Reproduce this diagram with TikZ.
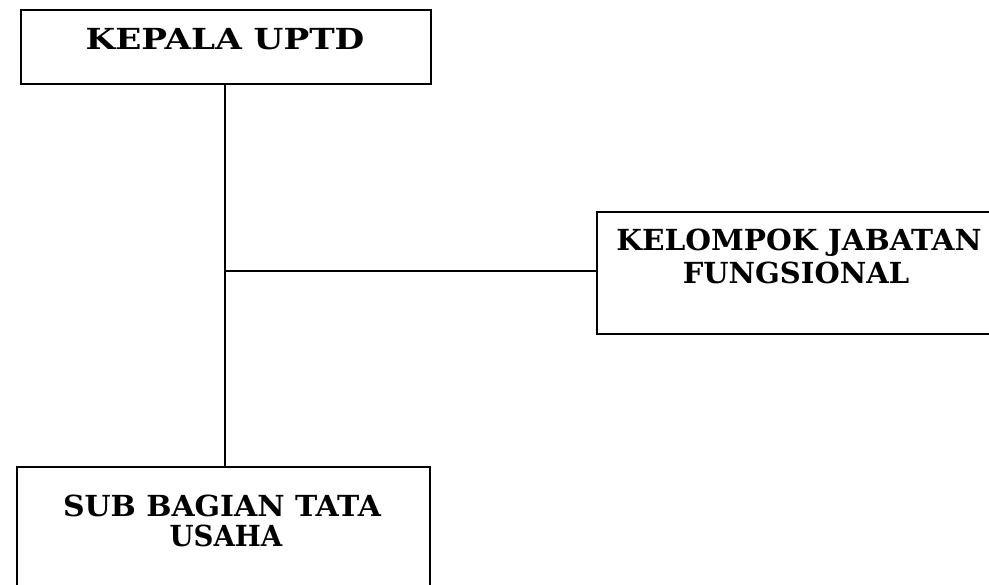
\documentclass[tikz,border=0pt]{standalone}
\usepackage{fontspec}
\setmainfont{DejaVu Serif}
% horizontal stretch of a label to the set width of the chart's typeface
\newcommand{\wide}[2]{\scalebox{#1}[1]{#2}}
\begin{document}
\begin{tikzpicture}[x=1pt,y=-1pt,
  box/.style={draw=black,line width=2pt,fill=white,inner sep=0pt,anchor=north west},
  lbl/.style={anchor=base,inner sep=0pt,font=\bfseries\fontsize{29}{33}\selectfont},
  link/.style={draw=black,line width=2pt}]
\useasboundingbox (0,0) rectangle (989,585);
\clip (0,0) rectangle (989,585);
\coordinate (junc) at (225,271);
% boxes
\node[box,minimum width=410pt,minimum height=73.5pt] (head) at (20,9.5) {};
\node[box,minimum width=408pt,minimum height=122pt] (func) at (596,211) {};
\node[box,minimum width=413pt,minimum height=160pt] (admin) at (16,466) {};
% connectors
\draw[link] (head.south -| junc) -- (admin.north -| junc);
\draw[link] (junc) -- (junc -| func.west);
% labels
\node[lbl] (headtxt) at (225,50) {\wide{1.18}{KEPALA UPTD}};
\node[lbl] (functxta) at (799,251) {\wide{1.02}{KELOMPOK JABATAN}};
\node[lbl] (functxtb) at (796,284) {\wide{1.0}{FUNGSIONAL}};
\node[lbl] (admintxta) at (222,516) {\wide{1.03}{SUB BAGIAN TATA}};
\node[lbl] (admintxtb) at (226,546) {\wide{0.95}{USAHA}};
\end{tikzpicture}
\end{document}
